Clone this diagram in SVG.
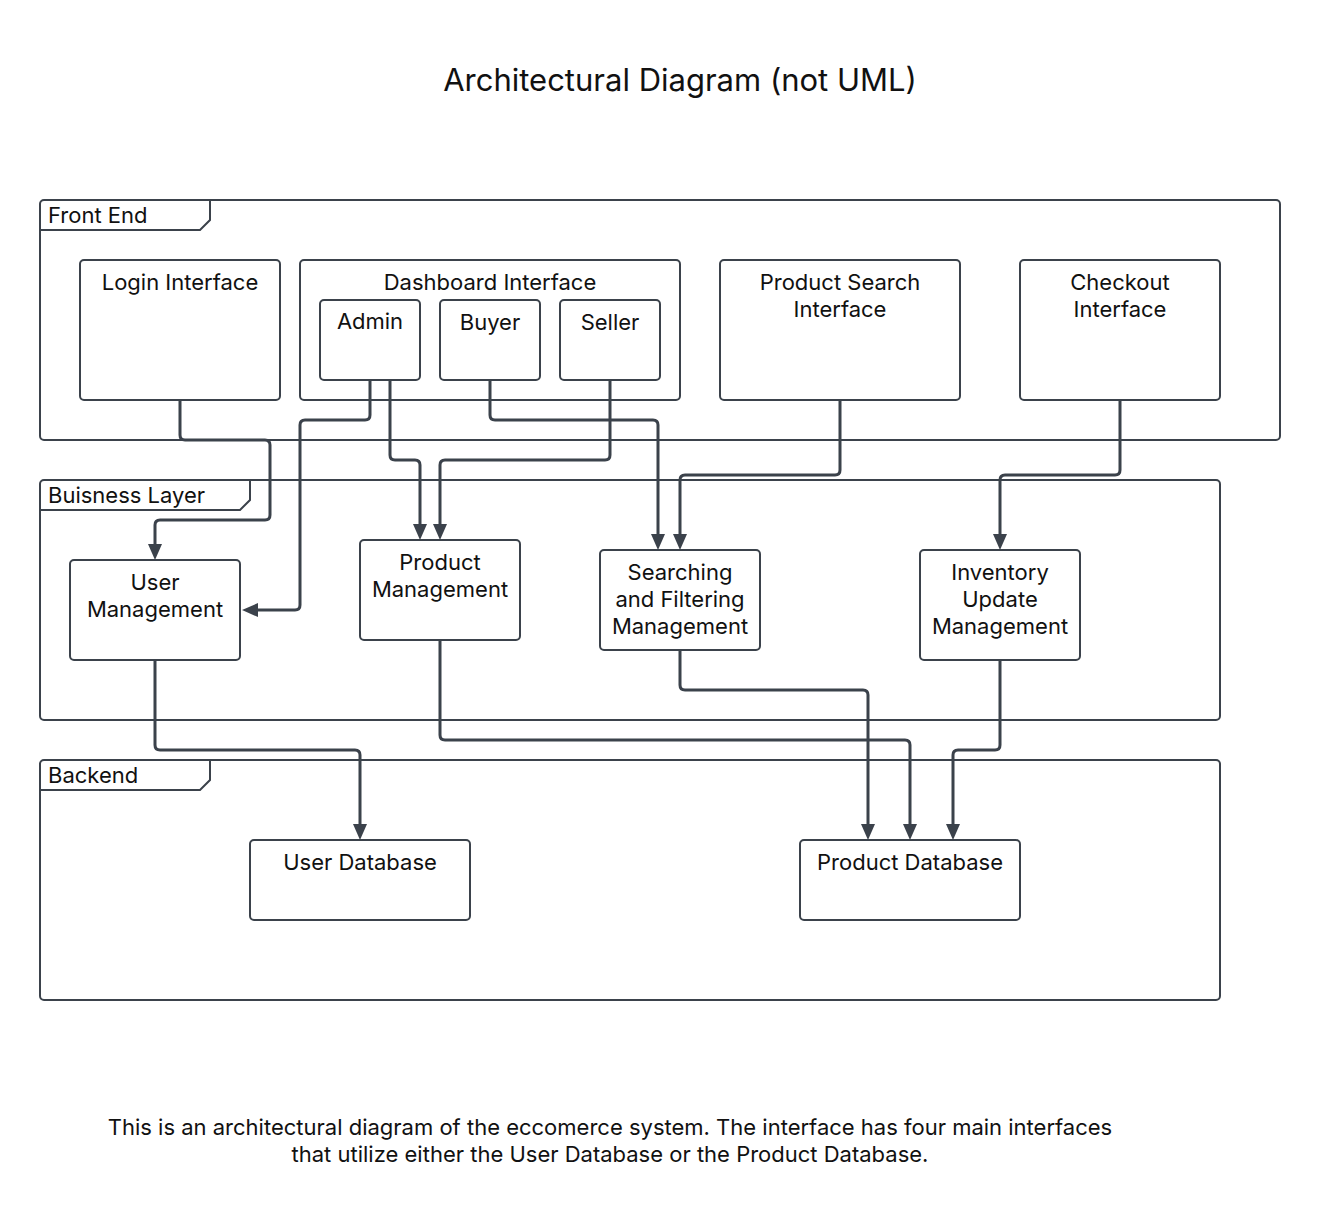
<svg xmlns="http://www.w3.org/2000/svg" width="1320" height="1220" viewBox="0 0 1320 1220">
<style>
.frame{fill:none;stroke:#3b424b;stroke-width:2}
.node{fill:#fff;stroke:#3b424b;stroke-width:2}
.t{font-family:Inter,"Liberation Sans",sans-serif;font-size:22px;fill:#111;text-anchor:middle}
.fl{font-family:Inter,"Liberation Sans",sans-serif;font-size:22px;fill:#111}
.c{fill:none;stroke:#3b424b;stroke-width:3;marker-end:url(#ah)}
</style>
<defs>
<marker id="ah" markerUnits="userSpaceOnUse" viewBox="0 0 16 14" markerWidth="16" markerHeight="14" refX="1" refY="7" orient="auto">
<path d="M0,0 L16,7 L0,14 z" fill="#3b424b"/>
</marker>
</defs>
<rect width="1320" height="1220" fill="#fff"/>
<text x="680" y="91" style="font-family:Inter,'Liberation Sans',sans-serif;font-size:31px;fill:#111;text-anchor:middle">Architectural Diagram (not UML)</text>

<g id="frame-frontend">
<rect class="frame" x="40" y="200" width="1240" height="240" rx="4"/>
<path class="frame" d="M40 230 H200 L210 220 V200"/>
<text class="fl" x="48" y="223">Front End</text>
</g>
<g id="frame-business">
<rect class="frame" x="40" y="480" width="1180" height="240" rx="4"/>
<path class="frame" d="M40 510 H240 L250 500 V480"/>
<text class="fl" x="48" y="503">Buisness Layer</text>
</g>
<g id="frame-backend">
<rect class="frame" x="40" y="760" width="1180" height="240" rx="4"/>
<path class="frame" d="M40 790 H200 L210 780 V760"/>
<text class="fl" x="48" y="783">Backend</text>
</g>

<g id="login">
<rect class="node" x="80" y="260" width="200" height="140" rx="4"/>
<text class="t" x="180" y="290">Login Interface</text>
</g>
<g id="dashboard">
<rect class="node" x="300" y="260" width="380" height="140" rx="4"/>
<text class="t" x="490" y="290">Dashboard Interface</text>
</g>
<g id="admin">
<rect class="node" x="320" y="300" width="100" height="80" rx="4"/>
<text class="t" x="370" y="329">Admin</text>
</g>
<g id="buyer">
<rect class="node" x="440" y="300" width="100" height="80" rx="4"/>
<text class="t" x="490" y="330">Buyer</text>
</g>
<g id="seller">
<rect class="node" x="560" y="300" width="100" height="80" rx="4"/>
<text class="t" x="610" y="330">Seller</text>
</g>
<g id="product-search">
<rect class="node" x="720" y="260" width="240" height="140" rx="4"/>
<text class="t" x="840" y="290">Product Search</text>
<text class="t" x="840" y="317">Interface</text>
</g>
<g id="checkout">
<rect class="node" x="1020" y="260" width="200" height="140" rx="4"/>
<text class="t" x="1120" y="290">Checkout</text>
<text class="t" x="1120" y="317">Interface</text>
</g>

<g id="user-management">
<rect class="node" x="70" y="560" width="170" height="100" rx="4"/>
<text class="t" x="155" y="590">User</text>
<text class="t" x="155" y="617">Management</text>
</g>
<g id="product-management">
<rect class="node" x="360" y="540" width="160" height="100" rx="4"/>
<text class="t" x="440" y="570">Product</text>
<text class="t" x="440" y="597">Management</text>
</g>
<g id="searching">
<rect class="node" x="600" y="550" width="160" height="100" rx="4"/>
<text class="t" x="680" y="580">Searching</text>
<text class="t" x="680" y="607">and Filtering</text>
<text class="t" x="680" y="634">Management</text>
</g>
<g id="inventory">
<rect class="node" x="920" y="550" width="160" height="110" rx="4"/>
<text class="t" x="1000" y="580">Inventory</text>
<text class="t" x="1000" y="607">Update</text>
<text class="t" x="1000" y="634">Management</text>
</g>

<g id="user-db">
<rect class="node" x="250" y="840" width="220" height="80" rx="4"/>
<text class="t" x="360" y="870">User Database</text>
</g>
<g id="product-db">
<rect class="node" x="800" y="840" width="220" height="80" rx="4"/>
<text class="t" x="910" y="870">Product Database</text>
</g>

<g id="connectors">
<path class="c" d="M180 400 V435 Q180 440 185 440 H265 Q270 440 270 445 V515 Q270 520 265 520 H160 Q155 520 155 525 V545"/>
<path class="c" d="M370 380 V415 Q370 420 365 420 H305 Q300 420 300 425 V605 Q300 610 295 610 H257"/>
<path class="c" d="M390 380 V455 Q390 460 395 460 H415 Q420 460 420 465 V525"/>
<path class="c" d="M610 380 V455 Q610 460 605 460 H445 Q440 460 440 465 V525"/>
<path class="c" d="M490 380 V415 Q490 420 495 420 H653 Q658 420 658 425 V535"/>
<path class="c" d="M840 400 V470 Q840 475 835 475 H685 Q680 475 680 480 V535"/>
<path class="c" d="M1120 400 V470 Q1120 475 1115 475 H1005 Q1000 475 1000 480 V535"/>
<path class="c" d="M155 660 V745 Q155 750 160 750 H355 Q360 750 360 755 V825"/>
<path class="c" d="M440 640 V735 Q440 740 445 740 H905 Q910 740 910 745 V825"/>
<path class="c" d="M680 650 V685 Q680 690 685 690 H863 Q868 690 868 695 V825"/>
<path class="c" d="M1000 660 V745 Q1000 750 995 750 H958 Q953 750 953 755 V825"/>
</g>

<text class="t" x="610" y="1135">This is an architectural diagram of the eccomerce system. The interface has four main interfaces</text>
<text class="t" x="610" y="1162">that utilize either the User Database or the Product Database.</text>
</svg>
